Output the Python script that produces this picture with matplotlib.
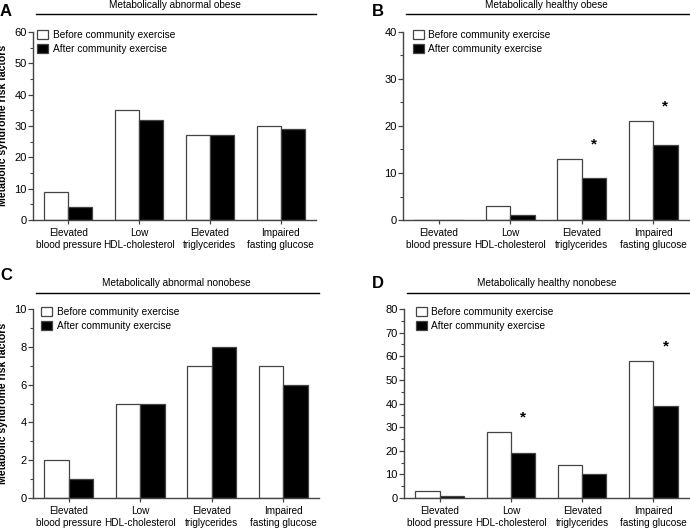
import matplotlib
matplotlib.use("Agg")
import matplotlib.pyplot as plt
import numpy as np
from matplotlib.patches import Patch
from matplotlib.ticker import MultipleLocator

plt.rcParams['font.family'] = ['Liberation Sans', 'DejaVu Sans']

categories = ["Elevated\nblood pressure", "Low\nHDL-cholesterol",
              "Elevated\ntriglycerides", "Impaired\nfasting glucose"]
series_names = ["Before community exercise", "After community exercise"]

titles = ["Metabolically abnormal obese", "Metabolically healthy obese",
          "Metabolically abnormal nonobese", "Metabolically healthy nonobese"]
letters = ["A", "B", "C", "D"]

before_A = [9, 35, 27, 30]
after_A = [4, 32, 27, 29]
before_B = [0, 3, 13, 21]
after_B = [0, 1, 9, 16]
before_C = [2, 5, 7, 7]
after_C = [1, 5, 8, 6]
before_D = [3, 28, 14, 58]
after_D = [1, 19, 10, 39]

stars_B = [False, False, True, True]
stars_D = [False, True, False, True]
stars_A = [False] * 4
stars_C = [False] * 4

ymax = [60, 40, 10, 80]
ystep = [10, 10, 2, 10]

panels = [
    (before_A, after_A, stars_A),
    (before_B, after_B, stars_B),
    (before_C, after_C, stars_C),
    (before_D, after_D, stars_D),
]

W, H = 690, 529
fig = plt.figure(figsize=(6.9, 5.29), dpi=100)

# axes rectangles in pixels: left, right, top, bottom
rects = [(33, 316, 32, 220), (403, 689, 32, 220),
         (33, 319, 309, 498), (404, 689, 309, 498)]
letter_pos = [(0, 12), (372, 12), (0, 276), (372, 283)]
legend_x = [0.0, 0.02, 0.015, 0.027]

edge = "#444444"
x = np.arange(len(categories))
bw = 0.34

for i, (bef, aft, stars) in enumerate(panels):
    l, r, t, b = rects[i]
    hpx = b - t
    ax = fig.add_axes([l / W, 1 - b / H, (r - l) / W, hpx / H])
    ax.bar(x - bw / 2, bef, bw, color="white", edgecolor=edge, linewidth=0.9)
    ax.bar(x + bw / 2, aft, bw, color="black", edgecolor=edge, linewidth=0.9)
    ax.set_xlim(-0.5, 3.5)
    ax.set_ylim(0, ymax[i])
    ax.yaxis.set_major_locator(MultipleLocator(ystep[i]))
    ax.yaxis.set_minor_locator(MultipleLocator(ystep[i] / 2))
    ax.set_xticks(x)
    ax.set_xticklabels(categories, fontsize=7.2, linespacing=1.2)
    ax.tick_params(axis='y', labelsize=8, length=3.5, width=0.9, color=edge, pad=1)
    ax.tick_params(axis='y', which='minor', length=2, width=0.8, color=edge)
    ax.tick_params(axis='x', length=3, width=0.9, color=edge, pad=3)
    for s in ["top", "right"]:
        ax.spines[s].set_visible(False)
    for s in ["left", "bottom"]:
        ax.spines[s].set_color(edge)
        ax.spines[s].set_linewidth(1.0)
    for j, st in enumerate(stars):
        if st:
            ax.text(x[j] + bw / 2, bef[j] + 0.055 * ymax[i], "*", ha="center",
                    va="baseline", fontsize=11, fontweight="bold")
    ax.legend(handles=[Patch(facecolor="white", edgecolor=edge, linewidth=0.9),
                       Patch(facecolor="black", edgecolor=edge, linewidth=0.9)],
              labels=series_names, loc="upper left", frameon=False,
              fontsize=7.3, handlelength=1.1, handleheight=0.9,
              handletextpad=0.45, labelspacing=0.4,
              borderaxespad=0.0, bbox_to_anchor=(legend_x[i], 1 + 6 / hpx))
    line_y = 1 + (t - (14 if i < 2 else 293.5)) / hpx
    text_y = 1 + (t - (4.5 if i < 2 else 282.5)) / hpx
    ax.plot([0.01, 1.0], [line_y, line_y], transform=ax.transAxes,
            color="black", linewidth=1.0, clip_on=False)
    ax.text(0.5, text_y, titles[i], transform=ax.transAxes, ha="center",
            va="center", fontsize=7.2)
    lx, ly = letter_pos[i]
    fig.text(lx / W, 1 - ly / H, letters[i], fontsize=12, fontweight="bold",
             ha="left", va="center")
    if i % 2 == 0:
        ax.set_ylabel("Metabolic syndrome risk factors", fontsize=7.6,
                      fontweight="bold")
        ax.yaxis.set_label_coords((8.5 - l) / (r - l), (b - 125) / hpx if i == 0 else (b - 403) / hpx)

fig.savefig("out.png", dpi=100)
